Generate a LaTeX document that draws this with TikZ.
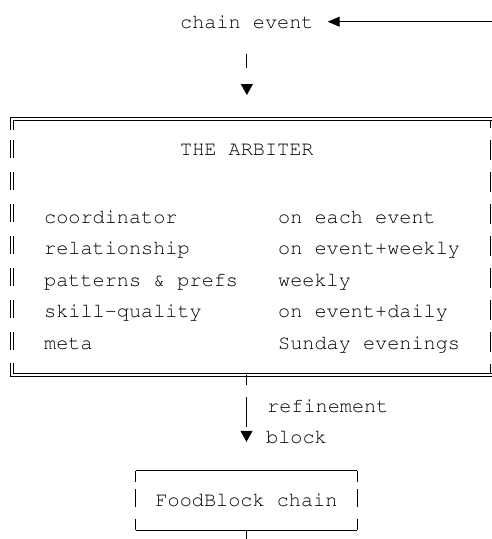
\documentclass[tikz,border=0pt]{standalone}
\usepackage[T1]{fontenc}
\usepackage{courier}
\usetikzlibrary{arrows.meta}

\tikzset{
  mono/.style={font=\ttfamily\fontsize{20.2}{24}\selectfont, inner sep=0pt},
  rule/.style={line width=1pt},
  flow/.style={rule, -{Triangle[length=11pt,width=12pt]}},
  cellside/.style={dash pattern=on 18pt off 14pt},
  boxside/.style={dash pattern=on 11pt off 7pt on 18pt off 12pt on 12pt off 1pt},
}

\begin{document}
\begin{tikzpicture}[x=1pt,y=-1pt]
  \useasboundingbox (0,0) rectangle (492,539);
  %\draw[very thin,gray,step=20] (0,0) grid (492,539);

  \node[mono,anchor=base west] (event) at (180,28) {chain event};
  \path (event.east) ++(180,0) coordinate (feed);
  \draw[rule,-{Triangle[length=12pt,width=10pt]},shorten >=14pt] (feed) -- (event.east);

  % the arbiter box, double rule on three sides
  \node[minimum width=479pt,minimum height=255.5pt,inner sep=0pt,outer sep=0pt] (arbiter) at (251.25,246.75) {};
  \draw[flow,dash pattern=on 14pt off 40pt,shorten <=25pt,shorten >=24pt]
       (event.south) -- (event.south |- arbiter.north);
  \foreach \d/\e in {-1.5/1.5,1.5/-1.5} {
    \draw[rule] ([shift={(3,\d)}]arbiter.north east) -- ([shift={(\d,\d)}]arbiter.north west)
         -- ([shift={(\d,11)}]arbiter.north west);
    \draw[rule,cellside] ([shift={(\d,21)}]arbiter.north west) -- ([shift={(\d,233)}]arbiter.north west);
    \draw[rule] ([shift={(\d,-12)}]arbiter.south west) -- ([shift={(\d,\e)}]arbiter.south west)
         -- ([shift={(3,\e)}]arbiter.south east);
  }
  \draw[rule,dash pattern=on 20pt off 12pt,dash phase=13pt]
       ([shift={(0,2)}]arbiter.north east) -- ([shift={(0,-2)}]arbiter.south east);

  \node[mono,anchor=base west] (title) at (180,155) {THE ARBITER};
  \foreach \role/\when [count=\i from 0] in {coordinator/on each event,
      relationship/on event+weekly, patterns \& prefs/weekly,
      skill-quality/on event+daily, meta/Sunday evenings} {
    \node[mono,anchor=base west] (role\i) at (44,{223+31.5*\i}) {\role};
    \node[mono,anchor=base west] (when\i) at (278,{223+31.5*\i}) {\when};
  }

  % down to the chain
  \node[mono,minimum width=221pt,minimum height=59pt] (food) at (246.5,500.5) {FoodBlock chain};
  \draw[rule] (food.north west) -- (food.north east);
  \draw[rule] (food.south west) -- (food.south east);
  \draw[rule,boxside] (food.north west) -- (food.south west);
  \draw[rule,boxside] (food.north east) -- (food.south east);

  \draw[flow,dash pattern=on 10.5pt off 12pt on 30pt off 20pt,shorten >=29pt]
       (food.north |- arbiter.south) -- (food.north);
  \node[mono,anchor=base west] (refine) at (267,412) {refinement};
  \node[mono,anchor=base west] (blocklbl) at (266,443) {block};

  \path (food.south) ++(0,12) coordinate (tail);
  \draw[rule] (food.south) -- (tail);
\end{tikzpicture}
\end{document}
